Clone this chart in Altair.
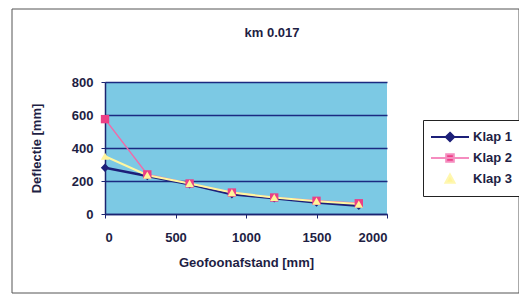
import altair as alt
import pandas as pd

# data
afstand = [0, 300, 600, 900, 1200, 1500, 1800]
klap1 = [280, 230, 180, 120, 95, 70, 50]
klap2 = [575, 240, 185, 130, 100, 80, 65]
klap3 = [350, 235, 185, 130, 100, 78, 60]
series = ["Klap 1", "Klap 2", "Klap 3"]
shapes = ["diamond", "square", "triangle-up"]

rows = []
for name, vals in zip(series, [klap1, klap2, klap3]):
    for x, y in zip(afstand, vals):
        rows.append({"afstand": x, "deflectie": y, "serie": name})
df = pd.DataFrame(rows)

line_colors = ["#1c1f78", "#f06aa8", "#fff7a0"]
line_widths = [2.5, 1.5, 2]
mark_colors = ["#1c1f78", "#ec3f86", "#fff49a"]
legend_line_colors = ["#1c1f78", "#f58cbf", "#fff7b0"]
FONT = "Liberation Sans"
TXT = "#1e1e44"

xs = alt.X("afstand:Q", scale=alt.Scale(domain=[0, 2000], nice=False),
           axis=alt.Axis(values=[0, 500, 1000, 1500, 2000], format="d", title="Geofoonafstand [mm]",
                         grid=False, labelPadding=13, titlePadding=12, labelOverlap=False))
ys = alt.Y("deflectie:Q", scale=alt.Scale(domain=[0, 800], nice=False),
           axis=alt.Axis(values=[0, 200, 400, 600, 800], format="d", title="Deflectie [mm]",
                         labelPadding=8, titlePadding=28, labelOverlap=False, grid=True))

base = alt.Chart(df)

line_layers = []
point_layers = []
for name, shp, lc, lw, mc in zip(series, shapes, line_colors, line_widths, mark_colors):
    sub = base.transform_filter(alt.datum.serie == name)
    line_layers.append(sub.mark_line(color=lc, strokeWidth=lw).encode(x=xs, y=ys))
    point_layers.append(
        sub.mark_point(filled=True, opacity=1, shape=shp, color=mc, size=70).encode(x=xs, y=ys)
    )

leg = alt.Legend(title=None, orient="none", legendX=318, legendY=38,
                 strokeColor="#222222", fillColor="white", padding=7,
                 symbolSize=1444, clipHeight=20, rowPadding=1, symbolStrokeWidth=2,
                 labelFont=FONT, labelFontWeight="bold", labelFontSize=13, labelColor=TXT,
                 labelOffset=3)

paths = [
    "M-1,0H1M0,-0.22L0.22,0L0,0.22L-0.22,0Z",
    "M-1,0H1M-0.2,-0.2H0.2V0.2H-0.2Z",
    "M0,-0.24L0.24,0.2L-0.24,0.2Z",
]

legend_layer = base.transform_filter("false").mark_point(filled=True, opacity=1).encode(
    x=xs, y=ys,
    shape=alt.Shape("serie:N", scale=alt.Scale(domain=series, range=paths), legend=leg),
    fill=alt.Fill("serie:N", scale=alt.Scale(domain=series, range=mark_colors), legend=leg),
    stroke=alt.Stroke("serie:N", scale=alt.Scale(domain=series, range=legend_line_colors), legend=leg),
)

border = alt.Chart(pd.DataFrame({"a": [0]})).mark_rect(
    fill=None, stroke="#555555", strokeWidth=1, clip=False
).encode(x=alt.value(-93), x2=alt.value(414), y=alt.value(-73), y2=alt.value(211))

title = alt.Chart(pd.DataFrame({"t": ["km 0.017"]})).mark_text(
    font=FONT, fontSize=13, fontWeight="bold", color=TXT, align="center", baseline="alphabetic"
).encode(x=alt.value(167), y=alt.value(-45), text="t:N")

chart = alt.layer(border, title, *line_layers, *point_layers, legend_layer).properties(
    width=282, height=132,
    autosize=alt.AutoSizeParams(type="none"),
    padding={"left": 97, "top": 74, "right": 132, "bottom": 80},
    background="white",
).configure_view(
    fill="#7cc9e4", stroke=None
).configure_axis(
    labelFont=FONT, labelFontWeight="bold", labelFontSize=13, labelColor=TXT,
    titleFont=FONT, titleFontWeight="bold", titleFontSize=13, titleColor=TXT,
    domainColor="#1b2470", domainWidth=1.5, tickColor="#1b2470", tickSize=4,
    gridColor="#1b2a80", gridWidth=1.5, gridOpacity=1,
)

chart.save("out.html", embed_options={"renderer": "svg", "actions": False})
